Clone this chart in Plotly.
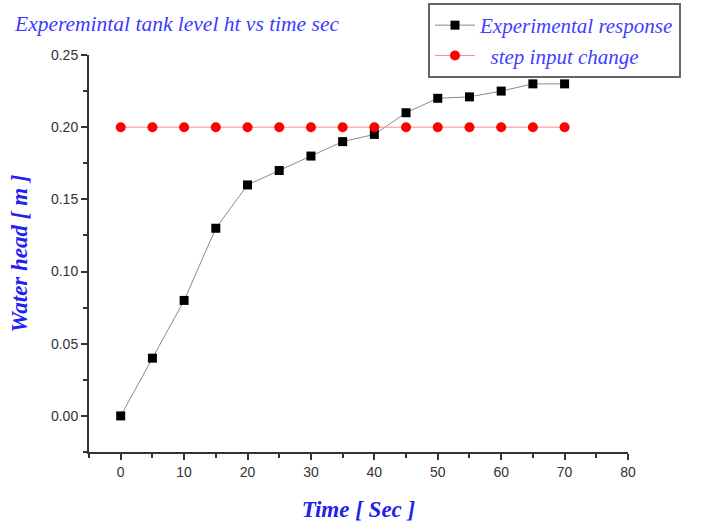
import plotly.graph_objects as go

time_sec = [0, 5, 10, 15, 20, 25, 30, 35, 40, 45, 50, 55, 60, 65, 70]
exp_response = [0.0, 0.04, 0.08, 0.13, 0.16, 0.17, 0.18, 0.19, 0.195, 0.21, 0.22, 0.221, 0.225, 0.23, 0.23]
step_input = [0.2] * 15

x_ticks = [0, 10, 20, 30, 40, 50, 60, 70, 80]
y_ticks = [0.0, 0.05, 0.10, 0.15, 0.20, 0.25]
y_tick_labels = ["0.00", "0.05", "0.10", "0.15", "0.20", "0.25"]

blue = "#2222ee"
serif = "Liberation Serif, Times New Roman, serif"

W, H = 711, 522

fig = go.Figure()
fig.add_trace(go.Scatter(
    x=time_sec, y=exp_response, mode="lines+markers",
    name="Experimental response",
    line=dict(color="#8a8a8a", width=1),
    marker=dict(symbol="square", size=9, color="black"),
))
fig.add_trace(go.Scatter(
    x=time_sec, y=step_input, mode="lines+markers",
    name="  step input change",
    line=dict(color="#ff8a8a", width=1),
    marker=dict(symbol="circle", size=10, color="#ff0000"),
))

axis_common = dict(
    showline=True, linecolor="#333333", linewidth=2,
    ticks="outside", ticklen=6, tickwidth=1.5, tickcolor="#333333",
    showgrid=False, zeroline=False, automargin=False,
    tickfont=dict(family="Liberation Sans, Arial, sans-serif", size=14, color="#333333"),
)

fig.update_layout(
    width=W, height=H,
    paper_bgcolor="white", plot_bgcolor="white",
    margin=dict(l=89, r=83, t=55, b=70, autoexpand=False),
    title=dict(
        text="Experemintal tank level ht vs time sec",
        font=dict(family=serif, size=21.5, color="#3b3bff", style="italic"),
        xref="container", x=15 / W, xanchor="left",
        yref="container", y=1 - 23 / H, yanchor="middle",
    ),
    xaxis=dict(
        range=[-5, 80], tickvals=x_ticks,
        minor=dict(ticks="outside", ticklen=4, dtick=5, tick0=0, tickcolor="#333333", tickwidth=1.5),
        title=dict(text="Time [ Sec ]", font=dict(family=serif, size=23, color=blue, style="italic", weight="bold"), standoff=23),
        **axis_common,
    ),
    yaxis=dict(
        range=[-0.025, 0.25], tickvals=y_ticks, ticktext=y_tick_labels,
        minor=dict(ticks="outside", ticklen=4, dtick=0.025, tick0=0, tickcolor="#333333", tickwidth=1.5),
        title=dict(text="Water head [ m ]", font=dict(family=serif, size=23, color=blue, style="italic", weight="bold"), standoff=17),
        **axis_common,
    ),
    legend=dict(
        xref="container", yref="container",
        x=428 / W, y=1 - 3 / H, xanchor="left", yanchor="top",
        bordercolor="#666666", borderwidth=2, bgcolor="rgba(255,255,255,0)",
        font=dict(family=serif, size=21, color="#4040ff", style="italic"),
        tracegroupgap=0, itemwidth=40,
    ),
    showlegend=True,
)

fig.write_html(
    "out.html",
    config={"displayModeBar": False},
    post_script="document.body.style.margin='0px';",
)
